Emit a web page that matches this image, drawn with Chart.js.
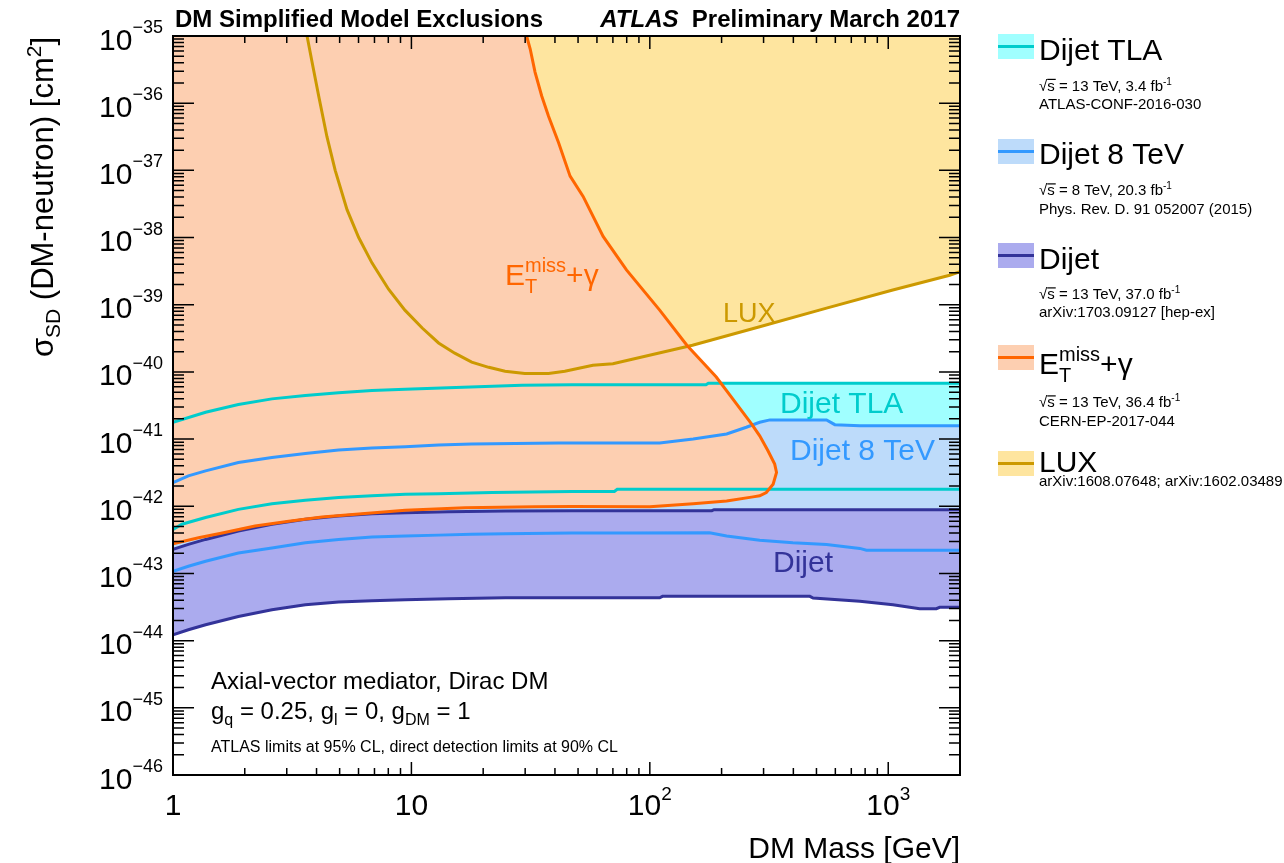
<!DOCTYPE html>
<html lang="en">
<head>
<meta charset="UTF-8" />
<title>DM Simplified Model Exclusions</title>
<script src="https://cdn.jsdelivr.net/npm/chart.js"></script>
<style>
  html, body { margin: 0; padding: 0; background: #fff; }
</style>
</head>
<body>
<canvas id="dmChart" width="1284" height="863"></canvas>
<script>
// axis ranges
const xMin = 1, xMax = 2000, yMin = 1e-46, yMax = 1e-35;

// LUX (direct detection), mass [GeV] vs sigma_SD [cm^2]
const luxMass = [3.65, 3.83, 4.08, 4.42, 4.79, 5.37, 6.01, 6.83, 8.02, 9.39, 11.1, 13.0, 15.2, 17.9, 21.1, 24.7, 29.9, 37.6, 44.0, 57.7, 70.0, 151, 289, 551, 1045, 1811, 2000];
const luxSigma = [1.0e-35, 4.1e-36, 1.3e-36, 3.2e-37, 1.0e-37, 2.6e-38, 1.0e-38, 4.2e-39, 1.7e-39, 8.3e-40, 4.5e-40, 2.7e-40, 1.9e-40, 1.4e-40, 1.17e-40, 1.02e-40, 9.5e-41, 9.5e-41, 1.02e-40, 1.26e-40, 1.32e-40, 2.5e-40, 4.7e-40, 8.9e-40, 1.66e-39, 2.75e-39, 3.1e-39];

// Dijet TLA band
const tlaUpMass = [1, 1.37, 1.88, 2.60, 3.59, 4.95, 6.83, 9.42, 14.3, 29.1, 47.1, 172, 176, 2000];
const tlaUpSigma = [1.78e-41, 2.51e-41, 3.27e-41, 3.97e-41, 4.46e-41, 4.89e-41, 5.29e-41, 5.53e-41, 5.81e-41, 6.35e-41, 6.44e-41, 6.45e-41, 6.8e-41, 6.8e-41];
const tlaLowMass = [1, 1.09, 1.37, 1.88, 2.60, 3.59, 4.95, 6.83, 9.42, 13.0, 21.8, 47.1, 71, 73, 2000];
const tlaLowSigma = [4.5e-43, 5.4e-43, 6.8e-43, 9.0e-43, 1.09e-42, 1.23e-42, 1.35e-42, 1.43e-42, 1.51e-42, 1.54e-42, 1.60e-42, 1.66e-42, 1.66e-42, 1.79e-42, 1.79e-42];

// Dijet 8 TeV band
const d8UpMass = [1, 1.16, 1.37, 1.88, 2.60, 3.59, 4.95, 6.83, 9.42, 13.0, 17.9, 41.4, 110, 152, 210, 254, 289, 319, 551, 597, 760, 2000];
const d8UpSigma = [2.25e-42, 2.84e-42, 3.37e-42, 4.49e-42, 5.33e-42, 6.11e-42, 6.87e-42, 7.36e-42, 7.69e-42, 8.16e-42, 8.45e-42, 8.75e-42, 8.75e-42, 1.0e-41, 1.19e-41, 1.5e-41, 1.78e-41, 1.93e-41, 1.93e-41, 1.64e-41, 1.58e-41, 1.58e-41];
const d8LowMass = [1, 1.16, 1.37, 1.88, 2.60, 3.59, 4.95, 6.83, 9.42, 13.0, 17.9, 24.8, 47.1, 80, 178, 210, 289, 398, 551, 760, 810, 2000];
const d8LowSigma = [1.08e-43, 1.28e-43, 1.52e-43, 2.02e-43, 2.40e-43, 2.86e-43, 3.21e-43, 3.48e-43, 3.60e-43, 3.72e-43, 3.82e-43, 3.89e-43, 4.0e-43, 4.0e-43, 4.04e-43, 3.6e-43, 3.13e-43, 2.86e-43, 2.7e-43, 2.36e-43, 2.22e-43, 2.22e-43];

// Dijet (13 TeV, 37 fb-1) band
const djUpMass = [1, 1.16, 1.37, 1.88, 2.60, 3.59, 4.95, 6.83, 9.42, 14.3, 24.8, 47.1, 182, 186, 2000];
const djUpSigma = [2.28e-43, 2.71e-43, 3.21e-43, 4.28e-43, 5.38e-43, 6.39e-43, 7.17e-43, 7.75e-43, 8.02e-43, 8.3e-43, 8.5e-43, 8.6e-43, 8.6e-43, 8.9e-43, 8.9e-43];
const djLowMass = [1, 1.16, 1.37, 1.88, 2.60, 3.59, 4.95, 6.83, 9.42, 14.3, 24.8, 110, 113, 469, 484, 760, 1047, 1355, 1592, 1643, 2000];
const djLowSigma = [1.22e-44, 1.45e-44, 1.72e-44, 2.29e-44, 2.88e-44, 3.43e-44, 3.75e-44, 3.93e-44, 4.07e-44, 4.21e-44, 4.35e-44, 4.35e-44, 4.56e-44, 4.56e-44, 4.3e-44, 3.85e-44, 3.43e-44, 2.99e-44, 2.99e-44, 3.13e-44, 3.13e-44];

// E_T^miss + gamma contour (top edge -> nose -> back to the left edge)
const monoMass = [30.2, 31.5, 33.0, 35.2, 37.6, 41.4, 46.3, 52.5, 63.7, 79.8, 110, 143, 190, 231, 267, 289, 313, 334, 340, 329, 308, 289, 271, 210, 152, 100, 47.1, 33.0, 16.8, 9.42, 6.20, 4.22, 3.06, 2.21, 1.61, 1.28, 1];
const monoSigma = [1.1e-35, 6.4e-36, 2.9e-36, 1.28e-36, 6.4e-37, 2.6e-37, 8.2e-38, 4.1e-38, 1.04e-38, 3.3e-39, 8.3e-40, 2.5e-40, 8.4e-41, 3.35e-41, 1.68e-41, 1.12e-41, 6.7e-42, 4.25e-42, 3.18e-42, 2.13e-42, 1.6e-42, 1.43e-42, 1.38e-42, 1.2e-42, 1.09e-42, 9.8e-43, 9.9e-43, 9.87e-43, 9.5e-43, 8.7e-43, 7.75e-43, 6.9e-43, 6.0e-43, 5.1e-43, 4.0e-43, 3.4e-43, 2.76e-43];

// colours
const cTla = ['#a0ffff', '#00cccc'];
const c8 = ['#bddbfa', '#3399ff'];
const cDj = ['#ababee', '#333399'];
const cMono = ['#fdcfb1', '#ff6600'];
const cLux = ['#fee59f', '#cc9900'];

const FONT = "'Liberation Sans', Arial, Helvetica, sans-serif";

const pts = (ms, ss) => ms.map((m, i) => ({ x: m, y: ss[i] }));
const band = (mu, su, ml, sl) => pts(mu, su).concat(pts(ml, sl).reverse());

function area(label, data, color, order) {
  return { label, data, fill: 'shape', backgroundColor: color, borderColor: 'rgba(0,0,0,0)',
           borderWidth: 0, pointRadius: 0, tension: 0, order };
}
function curve(label, data, color, order) {
  return { label, data, fill: false, borderColor: color, backgroundColor: color,
           borderWidth: 3, pointRadius: 0, tension: 0, order };
}

const datasets = [
  curve('E_T^miss+gamma', pts(monoMass, monoSigma), cMono[1], 0),
  curve('LUX', pts(luxMass, luxSigma), cLux[1], 1),
  curve('Dijet TLA up', pts(tlaUpMass, tlaUpSigma), cTla[1], 2),
  curve('Dijet TLA low', pts(tlaLowMass, tlaLowSigma), cTla[1], 2),
  curve('Dijet 8 TeV up', pts(d8UpMass, d8UpSigma), c8[1], 2),
  curve('Dijet 8 TeV low', pts(d8LowMass, d8LowSigma), c8[1], 2),
  curve('Dijet up', pts(djUpMass, djUpSigma), cDj[1], 2),
  curve('Dijet low', pts(djLowMass, djLowSigma), cDj[1], 2),
  area('E_T^miss+gamma area', pts(monoMass, monoSigma).concat([{ x: xMin, y: yMax }]), cMono[0], 6),
  area('Dijet area', band(djUpMass, djUpSigma, djLowMass, djLowSigma), cDj[0], 7),
  area('Dijet 8 TeV area', band(d8UpMass, d8UpSigma, d8LowMass, d8LowSigma), c8[0], 8),
  area('Dijet TLA area', band(tlaUpMass, tlaUpSigma, tlaLowMass, tlaLowSigma), cTla[0], 9),
  area('LUX area', pts(luxMass, luxSigma).concat([{ x: xMax, y: yMax }, { x: luxMass[0], y: yMax }]), cLux[0], 10)
];

// rich text: parts = [{t, s, b, it, dy, over, under:{t, s, dy}}]
function fontOf(p) {
  return (p.it ? 'italic ' : '') + (p.b ? 'bold ' : '') + p.s + 'px ' + FONT;
}
function drawParts(c, parts, x, y, align, color) {
  const widths = parts.map(p => {
    c.font = fontOf(p);
    let w = c.measureText(p.t).width;
    if (p.under) { c.font = fontOf(p.under); w = Math.max(w, c.measureText(p.under.t).width); }
    return w + (p.pad || 0);
  });
  const total = widths.reduce((a, b) => a + b, 0);
  let cx = align === 'right' ? x - total : align === 'center' ? x - total / 2 : x;
  c.fillStyle = color;
  c.textAlign = 'left';
  c.textBaseline = 'alphabetic';
  parts.forEach((p, i) => {
    c.font = fontOf(p);
    c.fillText(p.t, cx, y + (p.dy || 0));
    if (p.over) c.fillRect(cx, y + (p.dy || 0) - p.s * 0.78, c.measureText(p.t).width + 1, 1.2);
    if (p.under) { c.font = fontOf(p.under); c.fillText(p.under.t, cx, y + (p.under.dy || 0)); }
    cx += widths[i];
  });
  return total;
}

const sqrtS = (rest) => [{ t: '√', s: 15 }, { t: 's', s: 15, over: true }, { t: rest, s: 15 }, { t: '-1', s: 10, dy: -6 }];
const eMiss = (s, ss) => [{ t: 'E', s: s }, { t: 'miss', s: ss, dy: -s * 0.42, under: { t: 'T', s: ss, dy: s * 0.28 } }, { t: '+γ', s: s }];

// legend entries
const legendFill = [cTla[0], c8[0], cDj[0], cMono[0], cLux[0]];
const legendLine = [cTla[1], c8[1], cDj[1], cMono[1], cLux[1]];
const legendNames = ['Dijet TLA', 'Dijet 8 TeV', 'Dijet', '', 'LUX'];
const legendTop = [34, 139, 243, 345, 451];
const legendBase = [60, 164, 269, 374, 472];
const legendSub = [
  [[90.5, sqrtS(' = 13 TeV, 3.4 fb')], [109, 'ATLAS-CONF-2016-030']],
  [[195, sqrtS(' = 8 TeV, 20.3 fb')], [213.5, 'Phys. Rev. D. 91 052007 (2015)']],
  [[299, sqrtS(' = 13 TeV, 37.0 fb')], [317, 'arXiv:1703.09127 [hep-ex]']],
  [[407, sqrtS(' = 13 TeV, 36.4 fb')], [426, 'CERN-EP-2017-044']],
  [[486, 'arXiv:1608.07648; arXiv:1602.03489']]
];

const decor = {
  id: 'decor',
  beforeDraw(chart) {
    const c = chart.ctx;
    c.save();
    c.fillStyle = '#fff';
    c.fillRect(0, 0, chart.width, chart.height);
    c.restore();
  },
  afterDraw(chart) {
    const c = chart.ctx, a = chart.chartArea, xs = chart.scales.x, ys = chart.scales.y;
    c.save();

    // labels inside the plot
    drawParts(c, eMiss(30, 20), 505, 285, 'left', cMono[1]);
    drawParts(c, [{ t: 'LUX', s: 27 }], 723, 322, 'left', cLux[1]);
    drawParts(c, [{ t: 'Dijet TLA', s: 30 }], 780, 413, 'left', cTla[1]);
    drawParts(c, [{ t: 'Dijet 8 TeV', s: 30 }], 790, 460, 'left', c8[1]);
    drawParts(c, [{ t: 'Dijet', s: 30 }], 773, 572, 'left', cDj[1]);

    drawParts(c, [{ t: 'Axial-vector mediator, Dirac DM', s: 24 }], 211, 689, 'left', '#000');
    drawParts(c, [
      { t: 'g', s: 24 }, { t: 'q', s: 16, dy: 6 }, { t: ' = 0.25, g', s: 24 }, { t: 'l', s: 16, dy: 6 },
      { t: ' = 0, g', s: 24 }, { t: 'DM', s: 16, dy: 6 }, { t: ' = 1', s: 24 }
    ], 211, 719, 'left', '#000');
    drawParts(c, [{ t: 'ATLAS limits at 95% CL, direct detection limits at 90% CL', s: 16 }], 211, 752, 'left', '#000');

    // frame
    c.strokeStyle = '#000';
    c.lineWidth = 2;
    c.strokeRect(a.left, a.top, a.right - a.left, a.bottom - a.top);

    // ticks (inside, all four sides)
    c.lineWidth = 1.5;
    c.beginPath();
    for (let e = -46; e <= -35; e++) {
      for (let k = 1; k <= 9; k++) {
        const v = k * Math.pow(10, e);
        if (v > yMax * 1.001) break;
        const py = ys.getPixelForValue(v);
        const len = k === 1 ? 21 : 11;
        c.moveTo(a.left, py); c.lineTo(a.left + len, py);
        c.moveTo(a.right, py); c.lineTo(a.right - len, py);
      }
    }
    for (let d = 0; d <= 3; d++) {
      for (let k = 1; k <= 9; k++) {
        const v = k * Math.pow(10, d);
        if (v > xMax) break;
        const px = xs.getPixelForValue(v);
        const len = k === 1 ? 13 : 7;
        c.moveTo(px, a.bottom); c.lineTo(px, a.bottom - len);
        c.moveTo(px, a.top); c.lineTo(px, a.top + len);
      }
    }
    c.stroke();

    // y tick labels
    for (let e = -46; e <= -35; e++) {
      const py = ys.getPixelForValue(Math.pow(10, e));
      drawParts(c, [{ t: '10', s: 30 }, { t: '−' + (-e), s: 18, dy: -16.5 }], a.left - 10, py + 13.5, 'right', '#000');
    }
    // x tick labels
    const xLab = [[1, [{ t: '1', s: 30 }]], [10, [{ t: '10', s: 30 }]],
                  [100, [{ t: '10', s: 30 }, { t: '2', s: 19, dy: -15 }]],
                  [1000, [{ t: '10', s: 30 }, { t: '3', s: 19, dy: -15 }]]];
    xLab.forEach(([v, parts]) => drawParts(c, parts, xs.getPixelForValue(v), 815, 'center', '#000'));

    // axis titles
    drawParts(c, [{ t: 'DM Mass [GeV]', s: 30 }], a.right, 858, 'right', '#000');
    c.save();
    c.translate(53, a.top + 1);
    c.rotate(-Math.PI / 2);
    drawParts(c, [{ t: 'σ', s: 31 }, { t: 'SD', s: 21, dy: 7 }, { t: ' (DM-neutron) [cm', s: 31 },
                  { t: '2', s: 21, dy: -12 }, { t: ']', s: 31 }], 0, 0, 'right', '#000');
    c.restore();

    // header
    drawParts(c, [{ t: 'DM Simplified Model Exclusions', s: 24, b: true }], 175, 27, 'left', '#000');
    drawParts(c, [{ t: 'ATLAS', s: 24, b: true, it: true }, { t: '  Preliminary March 2017', s: 24, b: true }], a.right, 27, 'right', '#000');

    // legend
    legendTop.forEach((top, i) => {
      c.fillStyle = legendFill[i];
      c.fillRect(998, top, 36, 25);
      c.fillStyle = legendLine[i];
      c.fillRect(998, top + 11, 36, 3);
      const name = i === 3 ? eMiss(30, 20) : [{ t: legendNames[i], s: 30 }];
      drawParts(c, name, 1039, legendBase[i], 'left', '#000');
      legendSub[i].forEach(([yy, content]) => {
        const parts = typeof content === 'string' ? [{ t: content, s: 15 }] : content;
        drawParts(c, parts, 1039, yy, 'left', '#000');
      });
    });

    c.restore();
  }
};

new Chart(document.getElementById('dmChart').getContext('2d'), {
  type: 'line',
  data: { datasets },
  options: {
    responsive: false,
    animation: false,
    events: [],
    layout: { padding: { left: 173, right: 324, top: 36, bottom: 88 } },
    scales: {
      x: { type: 'logarithmic', min: xMin, max: xMax, display: false },
      y: { type: 'logarithmic', min: yMin, max: yMax, display: false }
    },
    plugins: {
      legend: { display: false },
      tooltip: { enabled: false }
    }
  },
  plugins: [decor]
});
</script>
</body>
</html>
